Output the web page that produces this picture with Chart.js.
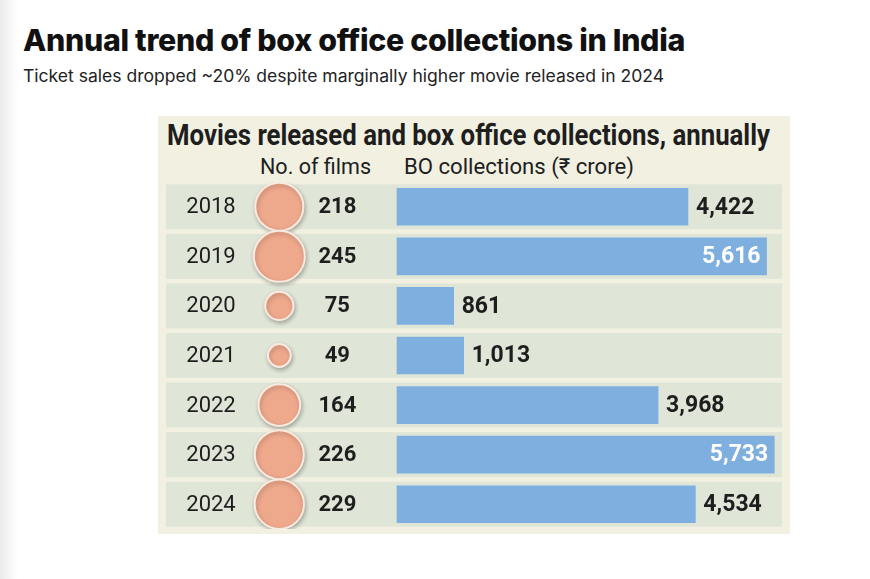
<!DOCTYPE html>
<html>
<head>
<meta charset="utf-8">
<script src="https://cdn.jsdelivr.net/npm/chart.js@4"></script>
<style>
  body { margin: 0; width: 870px; height: 579px; background: #fff; position: relative; overflow: hidden; font-family: "Open Sans", sans-serif; }
  .edge { position: absolute; left: 0; top: 0; width: 18px; height: 579px; background: linear-gradient(to right, #ebebeb, #ffffff); }
  .fit { position: absolute; white-space: nowrap; transform-origin: 0 0; }
  #title { left: 23px; top: 22px; font: 800 30px Inter, sans-serif; color: #111; letter-spacing: -0.3px; }
  #sub { left: 23px; top: 66px; font: 400 17px Inter, sans-serif; color: #222; }
  #panel { position: absolute; left: 158px; top: 116px; width: 632px; height: 418px; background: #f1f0e1; }
  #ptitle { left: 167px; top: 118px; font: 700 29px Roboto, sans-serif; color: #1e1e1e; }
  .hd { font: 400 22px Roboto, "Noto Sans", sans-serif; color: #1e1e1e; }
  #h1 { left: 260px; top: 154px; }
  #h2 { left: 404px; top: 154px; }
  #wrap { position: absolute; left: 160px; top: 182px; width: 628px; height: 347px; }
</style>
</head>
<body>
<div class="edge"></div>
<div id="title" class="fit" data-w="662">Annual trend of box office collections in India</div>
<div id="sub" class="fit" data-w="641">Ticket sales dropped ~20% despite marginally higher movie released in 2024</div>
<div id="panel"></div>
<div id="ptitle" class="fit" data-w="603">Movies released and box office collections, annually</div>
<div id="h1" class="fit hd" data-w="111">No. of films</div>
<div id="h2" class="fit hd" data-w="230">BO collections (₹ crore)</div>
<div id="wrap"><canvas id="c"></canvas></div>
<script>
const years = ["2018", "2019", "2020", "2021", "2022", "2023", "2024"];
const films = [218, 245, 75, 49, 164, 226, 229];
const collections = [4422, 5616, 861, 1013, 3968, 5733, 4534];

// squeeze headings to the width they take in the original
document.querySelectorAll(".fit").forEach(el => {
  const w = el.getBoundingClientRect().width;
  el.style.transform = "scaleX(" + (el.dataset.w / w) + ")";
});

const FILM_COL = 0.19;

const rowsPlugin = {
  id: "rows",
  beforeDatasetsDraw(chart) {
    const { ctx, scales: { y } } = chart;
    ctx.save();
    ctx.fillStyle = "#dfe6d8";
    years.forEach((yr, i) => {
      const cy = y.getPixelForValue(i);
      ctx.fillRect(6, cy - 22.5, 616, 45);
    });
    ctx.restore();
  },
  beforeDatasetDraw(chart, args) {
    if (args.index === 1) {
      chart.ctx.save();
      chart.ctx.shadowColor = "rgba(0,0,0,0.25)";
      chart.ctx.shadowBlur = 4;
      chart.ctx.shadowOffsetX = 1;
      chart.ctx.shadowOffsetY = 2;
    }
  },
  afterDatasetDraw(chart, args) {
    if (args.index === 1) chart.ctx.restore();
  },
  afterDatasetsDraw(chart) {
    const { ctx, scales: { y } } = chart;
    const bars = chart.getDatasetMeta(0).data;
    const dots = chart.getDatasetMeta(1).data;
    ctx.save();
    ctx.textBaseline = "middle";
    years.forEach((yr, i) => {
      const cy = y.getPixelForValue(i) + 1;
      ctx.fillStyle = "#1e1e1e";
      ctx.textAlign = "center";
      ctx.font = "400 22px Roboto, sans-serif";
      ctx.fillText(yr, 51, cy);
      ctx.font = "700 22px Roboto, sans-serif";
      ctx.fillText(films[i], dots[i].x + 58, cy);
      ctx.font = "700 23px Roboto, sans-serif";
      const label = collections[i].toLocaleString("en-US");
      const end = bars[i].x;
      if (collections[i] > 5000) {
        ctx.fillStyle = "#ffffff";
        ctx.textAlign = "right";
        ctx.fillText(label, end - 6, cy);
      } else {
        ctx.textAlign = "left";
        ctx.fillText(label, end + 8, cy);
      }
    });
    ctx.restore();
  }
};

new Chart(document.getElementById("c"), {
  data: {
    labels: years,
    datasets: [{
      type: "bar",
      data: collections,
      xAxisID: "x",
      yAxisID: "y",
      backgroundColor: "#7eafdf",
      borderWidth: 0,
      barThickness: 37
    }, {
      type: "bubble",
      data: years.map((yr, i) => ({ x: FILM_COL, y: yr, r: 1.63 * Math.sqrt(films[i]) })),
      xAxisID: "xc",
      yAxisID: "y",
      backgroundColor: "#eea88c",
      borderColor: "#fbeadf",
      borderWidth: 2,
      clip: false
    }]
  },
  options: {
    indexAxis: "y",
    responsive: true,
    maintainAspectRatio: false,
    animation: false,
    layout: { padding: 0, autoPadding: false },
    plugins: { legend: { display: false }, tooltip: { enabled: false } },
    scales: {
      x: { type: "linear", axis: "x", min: -3602, max: 5942, display: false },
      xc: { type: "linear", axis: "x", min: 0, max: 1, display: false },
      y: { type: "category", labels: years, offset: true, display: false }
    }
  },
  plugins: [rowsPlugin]
});
</script>
</body>
</html>
